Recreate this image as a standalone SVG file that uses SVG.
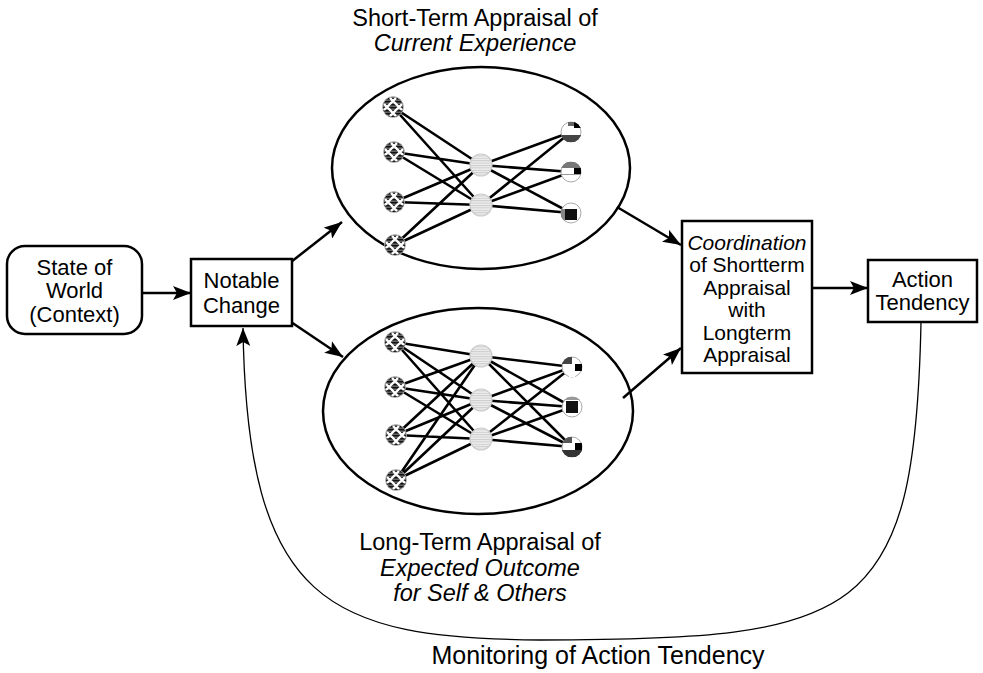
<svg xmlns="http://www.w3.org/2000/svg" width="983" height="673" viewBox="0 0 983 673">
<style>
.box{fill:#fff;stroke:#000;stroke-width:2.5}
.ell{fill:none;stroke:#000;stroke-width:2.5}
.t{font-family:"Liberation Sans",Arial,sans-serif;font-size:22px;fill:#000;text-anchor:middle}
.big{font-size:23.5px}
.sm{font-size:21px}
.mon{font-size:25px}
.it{font-style:italic}
.arr{fill:none;stroke:#000;stroke-width:2.5;marker-end:url(#ah)}
.fb{fill:none;stroke:#000;stroke-width:1.3;marker-end:url(#ah2)}
.w{stroke:#000;stroke-width:2.6;fill:none}
.inw{stroke:#fff;stroke-width:2.4;fill:none}
</style>
<defs>
<marker id="ah" markerUnits="userSpaceOnUse" markerWidth="20" markerHeight="14" refX="18" refY="7" orient="auto">
<path d="M0,0 L18,7 L0,14 L4,7 z" fill="#000"/>
</marker>
<marker id="ah2" markerUnits="userSpaceOnUse" markerWidth="20" markerHeight="14" refX="18" refY="7" orient="auto">
<path d="M0,0 L18,7 L0,14 L4,7 z" fill="#000"/>
</marker>
<pattern id="hs" width="4" height="2.4" patternUnits="userSpaceOnUse">
<rect width="4" height="2.4" fill="#eee"/>
<rect width="4" height="1" fill="#ccc"/>
</pattern>
<pattern id="ip" width="3" height="3" patternUnits="userSpaceOnUse">
<rect width="3" height="3" fill="#666"/>
<rect width="3" height="1.5" fill="#111"/>
</pattern>
<clipPath id="cc"><circle r="10.5"/></clipPath>
<g id="in">
<circle r="10.5" fill="url(#ip)" stroke="#bbb" stroke-width="0.8"/>
<g clip-path="url(#cc)">
<path class="inw" d="M-9,-3 L3,9 M-3,-9 L9,3 M-9,3 L3,-9 M-3,9 L9,-3"/>
</g>
</g>
<g id="hid">
<circle r="11" fill="url(#hs)" stroke="#ccc" stroke-width="1.2"/>
</g>
</defs>

<g id="connectors">
<line class="arr" x1="142" y1="293" x2="191" y2="293"/>
<line class="arr" x1="291" y1="262" x2="342" y2="222"/>
<line class="arr" x1="291" y1="322" x2="343" y2="357"/>
<line class="arr" x1="617" y1="207" x2="681" y2="245"/>
<line class="arr" x1="623" y1="398" x2="681" y2="348"/>
<line class="arr" x1="812" y1="288" x2="868" y2="288"/>
<path class="fb" d="M921,322 C915,620 860,640 540,640 C330,638 247,605 243,328"/>
</g>

<g id="state-of-world">
<rect class="box" x="7" y="246" width="135" height="88" rx="18"/>
<text class="t" x="74.5" y="275">State of</text>
<text class="t" x="74.5" y="298">World</text>
<text class="t" x="74.5" y="322">(Context)</text>
</g>

<g id="notable-change">
<rect class="box" x="191" y="259" width="101" height="67"/>
<text class="t" x="241.5" y="288">Notable</text>
<text class="t" x="241.5" y="313">Change</text>
</g>

<g id="short-term">
<ellipse class="ell" cx="481" cy="168" rx="149" ry="101"/>
<g class="w">
<path d="M393,107 L481,165 M393,107 L481,205 M394,152 L481,165 M394,152 L481,205 M394,202 L481,165 M394,202 L481,205 M395,245 L481,165 M395,245 L481,205"/>
<path d="M481,165 L571,132 M481,165 L571,172 M481,165 L571,213 M481,205 L571,132 M481,205 L571,172 M481,205 L571,213"/>
</g>
<use href="#in" x="393" y="107"/>
<use href="#in" x="394" y="152"/>
<use href="#in" x="394" y="202"/>
<use href="#in" x="395" y="245"/>
<use href="#hid" x="481" y="165"/>
<use href="#hid" x="481" y="205"/>
<g transform="translate(571,132)">
<circle r="10" fill="#fff" stroke="#aaa"/>
<g clip-path="url(#cc)"><rect x="-3" y="-10" width="6" height="4" fill="#666"/><rect x="3" y="-10" width="7" height="6" fill="#000"/><rect x="-10" y="3" width="20" height="7" fill="#444"/></g>
</g>
<g transform="translate(571,172)">
<circle r="10" fill="#fff" stroke="#aaa"/>
<g clip-path="url(#cc)"><rect x="-10" y="-10" width="20" height="6" fill="#777"/><rect x="3" y="-4" width="7" height="6" fill="#000"/><rect x="-10" y="2" width="20" height="1" fill="#999"/></g>
</g>
<g transform="translate(571,213)">
<circle r="10" fill="#fff" stroke="#aaa"/>
<g clip-path="url(#cc)"><rect x="-6" y="-4" width="12" height="11" fill="#111"/><rect x="-10" y="-4" width="4" height="11" fill="#888"/></g>
</g>
<text class="t big" x="475" y="26">Short-Term Appraisal of</text>
<text class="t big it" x="475" y="51">Current Experience</text>
</g>

<g id="long-term">
<ellipse class="ell" cx="478" cy="411" rx="155" ry="103"/>
<g class="w">
<path d="M395,342 L481,356 M395,342 L481,400 M395,342 L481,439 M395,387 L481,356 M395,387 L481,400 M395,387 L481,439 M396,435 L481,356 M396,435 L481,400 M396,435 L481,439 M396,480 L481,356 M396,480 L481,400 M396,480 L481,439"/>
<path d="M481,356 L572,367 M481,356 L572,407 M481,356 L572,447 M481,400 L572,367 M481,400 L572,407 M481,400 L572,447 M481,439 L572,367 M481,439 L572,407 M481,439 L572,447"/>
</g>
<use href="#in" x="395" y="342"/>
<use href="#in" x="395" y="387"/>
<use href="#in" x="396" y="435"/>
<use href="#in" x="396" y="480"/>
<use href="#hid" x="481" y="356"/>
<use href="#hid" x="481" y="400"/>
<use href="#hid" x="481" y="439"/>
<g transform="translate(572,367)">
<circle r="10" fill="#fff" stroke="#aaa"/>
<g clip-path="url(#cc)"><rect x="-10" y="-10" width="10" height="7" fill="#444"/><rect x="3" y="-3" width="7" height="7" fill="#000"/><rect x="-3" y="4" width="6" height="6" fill="#fff"/></g>
</g>
<g transform="translate(572,407)">
<circle r="10" fill="#fff" stroke="#aaa"/>
<g clip-path="url(#cc)"><rect x="-6" y="-6" width="12" height="12" fill="#111"/><rect x="-10" y="-10" width="20" height="3" fill="#999"/></g>
</g>
<g transform="translate(572,447)">
<circle r="10" fill="#fff" stroke="#aaa"/>
<g clip-path="url(#cc)"><rect x="-10" y="-10" width="10" height="6" fill="#555"/><rect x="3" y="-4" width="7" height="7" fill="#000"/><rect x="-10" y="3" width="20" height="7" fill="#333"/></g>
</g>
<text class="t big" x="480" y="550">Long-Term Appraisal of</text>
<text class="t big it" x="480" y="576">Expected Outcome</text>
<text class="t big it" x="480" y="601">for Self &amp; Others</text>
</g>

<g id="coordination">
<rect class="box" x="682" y="221" width="130" height="152"/>
<text class="t sm it" x="747" y="250">Coordination</text>
<text class="t sm" x="747" y="272">of Shortterm</text>
<text class="t sm" x="747" y="295">Appraisal</text>
<text class="t sm" x="747" y="317">with</text>
<text class="t sm" x="747" y="340">Longterm</text>
<text class="t sm" x="747" y="362">Appraisal</text>
</g>

<g id="action-tendency">
<rect class="box" x="868" y="260" width="109" height="62"/>
<text class="t" x="922.5" y="287">Action</text>
<text class="t" x="922.5" y="310">Tendency</text>
</g>

<g id="monitoring-label">
<text class="t mon" x="598" y="664">Monitoring of Action Tendency</text>
</g>
</svg>
